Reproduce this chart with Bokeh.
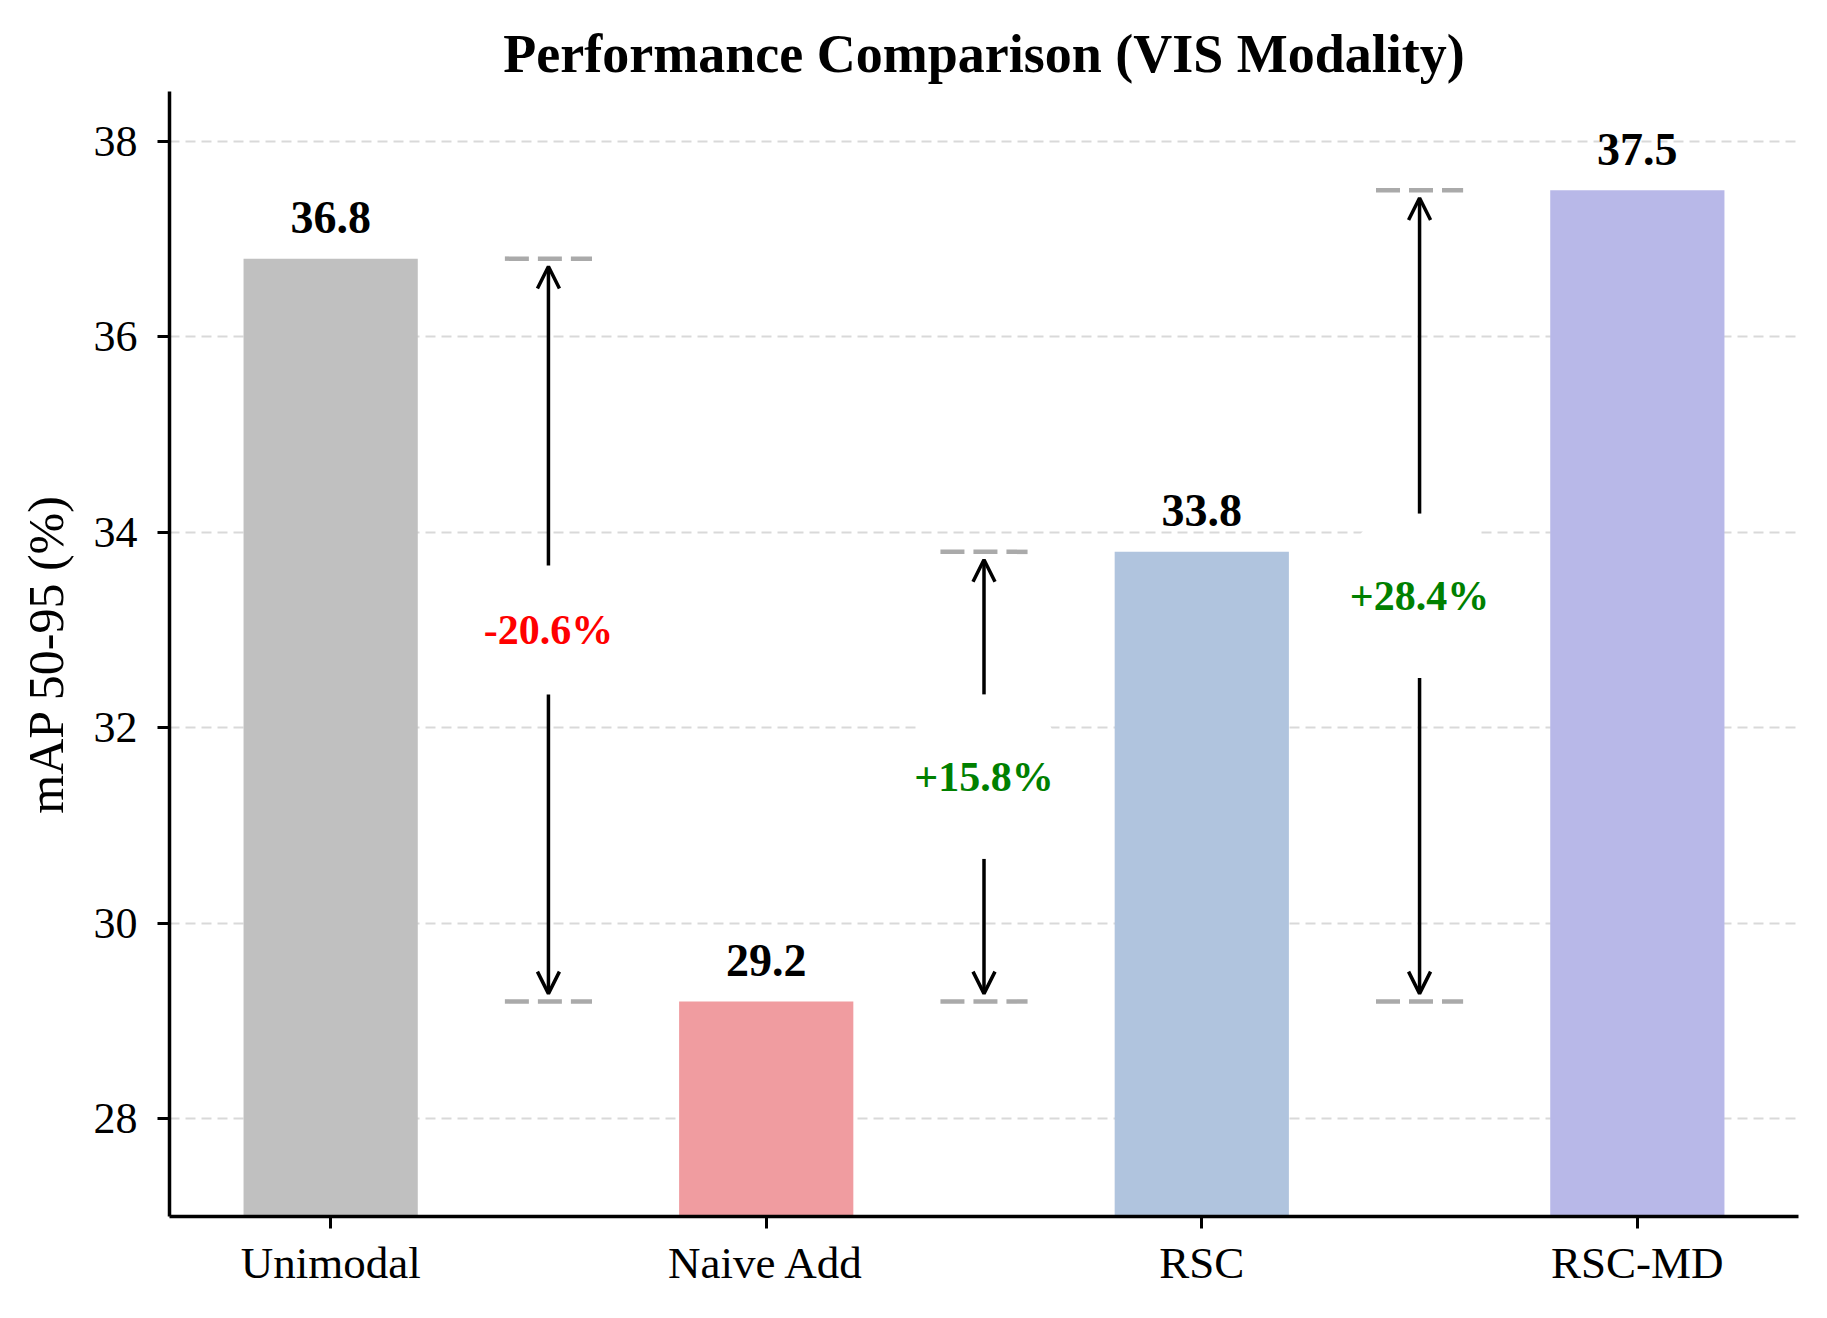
from bokeh.plotting import figure
from bokeh.models import Range1d, FixedTicker, Arrow, OpenHead, Label
from bokeh.embed import file_html
from bokeh.resources import INLINE
from bokeh.core.properties import value

# ---- data ----
categories = ["Unimodal", "Naive Add", "RSC", "RSC-MD"]
scores = [36.8, 29.2, 33.8, 37.5]
value_labels = ["36.8", "29.2", "33.8", "37.5"]
cmp_from = [0, 1, 1]
cmp_to = [1, 2, 3]
cmp_labels = ["-20.6%", "+15.8%", "+28.4%"]
y_ticks = [28, 30, 32, 34, 36, 38]

# ---- styles ----
bar_colors = ["#c0c0c0", "#f09ca0", "#b0c4de", "#b8b8e8"]
cmp_colors = ["#ff0000", "#008000", "#008000"]
gap_half = [0.66, 0.84, 0.84]       # half height of label box (data units)
box_pad_v = [41, 59, 59]            # vertical padding of label box (px)
FONT = "Liberation Serif"

W, H = 1811, 1302
p = figure(width=W, height=H, output_backend="svg", toolbar_location=None,
           x_range=Range1d(-0.37, 3.37), y_range=Range1d(27.0, 38.51),
           min_border_left=169, min_border_right=13,
           min_border_top=91, min_border_bottom=86,
           title="Performance Comparison (VIS Modality)")

xs = list(range(len(categories)))

# grid
p.xgrid.visible = False
p.ygrid.ticker = FixedTicker(ticks=y_ticks)
p.ygrid.grid_line_color = "#d9d9d9"
p.ygrid.grid_line_dash = "10 6"
p.ygrid.grid_line_width = 2
p.outline_line_color = None

# bars
p.vbar(x=xs, top=scores, bottom=0, width=0.4, color=bar_colors, line_color=None)

# value labels
p.text(x=xs, y=[s + 0.42 for s in scores], text=value_labels,
       text_font=value(FONT), text_font_style="bold", text_font_size="46px",
       text_align="center", text_baseline="alphabetic", text_color="black")

# comparison annotations
ref_x0, ref_x1, ref_y = [], [], []
for i, (a, b) in enumerate(zip(cmp_from, cmp_to)):
    ax = b - 0.5
    lo = min(scores[a], scores[b])
    hi = max(scores[a], scores[b])
    for yv in (lo, hi):
        ref_x0.append(ax - 0.1)
        ref_x1.append(ax + 0.1)
        ref_y.append(yv)

p.segment(x0=ref_x0, y0=ref_y, x1=ref_x1, y1=ref_y, line_color="#aaaaaa",
          line_width=4.5, line_dash="24 9")

shrink = 0.08
for i, (a, b) in enumerate(zip(cmp_from, cmp_to)):
    ax = b - 0.5
    lo = min(scores[a], scores[b])
    hi = max(scores[a], scores[b])
    mid = (scores[a] + scores[b]) / 2
    p.add_layout(Arrow(end=OpenHead(size=22, line_width=3.5, line_color="black"),
                       x_start=ax, y_start=mid + gap_half[i], x_end=ax, y_end=hi - shrink,
                       line_width=3.5, line_color="black"))
    p.add_layout(Arrow(end=OpenHead(size=22, line_width=3.5, line_color="black"),
                       x_start=ax, y_start=mid - gap_half[i], x_end=ax, y_end=lo + shrink,
                       line_width=3.5, line_color="black"))
    p.add_layout(Label(x=ax, y=mid, text=cmp_labels[i], text_align="center",
                       text_baseline="middle", text_font=FONT, text_font_style="bold",
                       text_font_size="42px", text_color=cmp_colors[i],
                       background_fill_color="white",
                       padding=dict(left=2, right=2, top=box_pad_v[i], bottom=box_pad_v[i]),
                       border_radius=55))

# title
p.title.text_font = FONT
p.title.text_font_size = "54px"
p.title.text_font_style = "bold"
p.title.text_color = "black"
p.title.align = "center"
p.title.standoff = 16

# axes
p.xaxis.ticker = FixedTicker(ticks=xs)
p.xaxis.major_label_overrides = {i: c for i, c in zip(xs, categories)}
p.yaxis.ticker = FixedTicker(ticks=y_ticks)
p.yaxis.axis_label = "mAP 50-95 (%)"
for ax_ in (p.xaxis, p.yaxis):
    ax_.axis_line_width = 3.5
    ax_.axis_line_color = "black"
    ax_.major_tick_in = 0
    ax_.major_tick_out = 12
    ax_.major_tick_line_width = 3
    ax_.major_tick_line_color = "black"
    ax_.minor_tick_line_color = None
    ax_.major_label_text_font = FONT
    ax_.major_label_text_color = "black"
p.xaxis.major_label_text_font_size = "45px"
p.yaxis.major_label_text_font_size = "44px"
p.xaxis.major_label_standoff = 9
p.yaxis.major_label_standoff = 20
p.yaxis.axis_label_text_font = FONT
p.yaxis.axis_label_text_font_size = "50px"
p.yaxis.axis_label_text_font_style = "normal"
p.yaxis.axis_label_text_color = "black"
p.yaxis.axis_label_standoff = 17

open("out.html", "w").write(file_html(p, INLINE))
